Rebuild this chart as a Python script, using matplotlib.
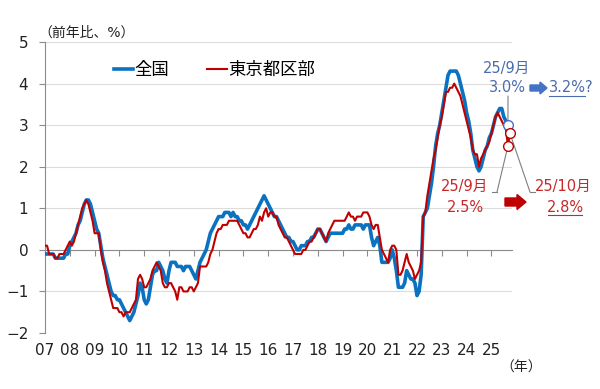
import numpy as np
import matplotlib
matplotlib.use('Agg')
import matplotlib.pyplot as plt
import matplotlib.patches as mpatches
from matplotlib.lines import Line2D

plt.rcParams['font.family'] = ['DejaVu Sans', 'Noto Sans CJK JP']
plt.rcParams['axes.unicode_minus'] = True

# ---------------- data (monthly, y/y %, from Jan 2007) ----------------
start_year = 2007
national = [
    -0.1, -0.1, -0.1, -0.1, -0.1, -0.2, -0.2, -0.2, -0.2, -0.2, -0.1, -0.1,  # 2007
    0.1, 0.2, 0.3, 0.4, 0.6, 0.7, 0.9, 1.1, 1.2, 1.2, 1.1, 0.9,              # 2008
    0.7, 0.5, 0.4, 0.1, -0.2, -0.4, -0.6, -0.8, -1.0, -1.1, -1.1, -1.2,      # 2009
    -1.2, -1.3, -1.4, -1.5, -1.6, -1.7, -1.6, -1.5, -1.3, -1.1, -0.8, -0.9,  # 2010
    -1.2, -1.3, -1.2, -0.9, -0.6, -0.5, -0.5, -0.3, -0.4, -0.5, -0.7, -0.8,  # 2011
    -0.5, -0.3, -0.3, -0.3, -0.4, -0.4, -0.4, -0.5, -0.4, -0.4, -0.4, -0.5,  # 2012
    -0.6, -0.7, -0.5, -0.3, -0.2, -0.1, 0.0, 0.2, 0.4, 0.5, 0.6, 0.7,        # 2013
    0.8, 0.8, 0.8, 0.9, 0.9, 0.9, 0.8, 0.9, 0.8, 0.8, 0.7, 0.7,              # 2014
    0.6, 0.6, 0.5, 0.6, 0.7, 0.8, 0.9, 1.0, 1.1, 1.2, 1.3, 1.2,              # 2015
    1.1, 1.0, 0.9, 0.8, 0.8, 0.7, 0.6, 0.5, 0.4, 0.3, 0.3, 0.2,              # 2016
    0.2, 0.1, 0.0, 0.0, 0.1, 0.1, 0.1, 0.2, 0.2, 0.3, 0.3, 0.4,              # 2017
    0.5, 0.5, 0.4, 0.3, 0.2, 0.3, 0.4, 0.4, 0.4, 0.4, 0.4, 0.4,              # 2018
    0.4, 0.5, 0.5, 0.6, 0.5, 0.5, 0.6, 0.6, 0.6, 0.6, 0.5, 0.6,              # 2019
    0.6, 0.6, 0.3, 0.1, 0.2, 0.3, 0.1, -0.3, -0.3, -0.3, -0.3, -0.2,         # 2020
    0.0, -0.2, -0.5, -0.9, -0.9, -0.9, -0.8, -0.5, -0.6, -0.7, -0.7, -0.8,   # 2021
    -1.1, -1.0, -0.6, 0.8, 0.9, 1.0, 1.3, 1.6, 2.0, 2.5, 2.8, 3.0,           # 2022
    3.3, 3.6, 3.9, 4.2, 4.3, 4.3, 4.3, 4.3, 4.2, 4.0, 3.8, 3.6,              # 2023
    3.3, 3.1, 2.8, 2.4, 2.2, 2.0, 1.9, 2.0, 2.2, 2.4, 2.5, 2.7,              # 2024
    2.8, 3.0, 3.2, 3.3, 3.4, 3.4, 3.2, 3.1, 3.0,                             # 2025
]
tokyo = [
    0.1, 0.1, -0.1, -0.1, -0.1, -0.2, -0.2, -0.1, -0.1, -0.1, 0.0, 0.1,      # 2007
    0.2, 0.1, 0.2, 0.4, 0.6, 0.8, 1.0, 1.1, 1.2, 1.1, 0.9, 0.7,              # 2008
    0.4, 0.4, 0.4, 0.0, -0.3, -0.5, -0.8, -1.0, -1.2, -1.4, -1.4, -1.4,      # 2009
    -1.5, -1.5, -1.6, -1.5, -1.5, -1.5, -1.4, -1.3, -1.2, -0.7, -0.6, -0.7,  # 2010
    -0.9, -0.9, -0.8, -0.7, -0.5, -0.4, -0.3, -0.4, -0.5, -0.8, -0.9, -0.9,  # 2011
    -0.8, -0.8, -0.9, -1.0, -1.2, -0.9, -0.9, -1.0, -1.0, -1.0, -0.9, -0.9,  # 2012
    -1.0, -0.9, -0.8, -0.4, -0.4, -0.4, -0.4, -0.3, -0.1, 0.0, 0.2, 0.4,     # 2013
    0.5, 0.5, 0.6, 0.6, 0.6, 0.7, 0.7, 0.7, 0.7, 0.7, 0.6, 0.5,              # 2014
    0.4, 0.4, 0.3, 0.3, 0.4, 0.5, 0.5, 0.6, 0.8, 0.7, 0.9, 1.0,              # 2015
    0.8, 0.9, 0.9, 0.8, 0.8, 0.6, 0.5, 0.4, 0.3, 0.3, 0.2, 0.1,              # 2016
    0.0, -0.1, -0.1, -0.1, -0.1, 0.0, 0.0, 0.1, 0.2, 0.2, 0.3, 0.4,          # 2017
    0.5, 0.5, 0.4, 0.3, 0.2, 0.4, 0.5, 0.6, 0.7, 0.7, 0.7, 0.7,              # 2018
    0.7, 0.7, 0.8, 0.9, 0.8, 0.8, 0.7, 0.8, 0.8, 0.8, 0.9, 0.9,              # 2019
    0.9, 0.8, 0.6, 0.5, 0.6, 0.6, 0.3, 0.0, -0.1, -0.2, -0.3, 0.0,           # 2020
    0.1, 0.1, 0.0, -0.6, -0.6, -0.5, -0.3, -0.1, -0.3, -0.4, -0.5, -0.7,     # 2021
    -0.6, -0.5, -0.3, 0.8, 0.9, 1.3, 1.6, 1.9, 2.2, 2.4, 2.7, 3.0,           # 2022
    3.2, 3.5, 3.8, 3.8, 3.9, 3.9, 4.0, 3.9, 3.8, 3.7, 3.5, 3.3,              # 2023
    3.1, 2.9, 2.7, 2.4, 2.3, 2.3, 2.0, 2.2, 2.3, 2.4, 2.5, 2.6,              # 2024
    2.8, 3.0, 3.2, 3.3, 3.2, 3.1, 3.0, 2.9, 2.5, 2.8,                        # 2025
]
series_names = ['全国', '東京都区部']
year_ticks = list(range(2007, 2026))
year_labels = ['07', '08', '09', '10', '11', '12', '13', '14', '15', '16',
               '17', '18', '19', '20', '21', '22', '23', '24', '25']
y_ticks = [-2, -1, 0, 1, 2, 3, 4, 5]

BLUE = '#0A72C0'
RED = '#C00000'
BLUE_TXT = '#4A6CAE'
RED_TXT = '#C8282A'
GRAY = '#8C8C8C'

W, H = 600, 389
def fx(px):
    return px / W
def fy(py):
    return 1 - py / H

fig = plt.figure(figsize=(W / 100, H / 100), dpi=100)
ax = fig.add_axes([fx(45), fy(333), (512 - 45) / W, (333 - 42) / H])

x_nat = start_year + np.arange(len(national)) / 12
x_tok = start_year + np.arange(len(tokyo)) / 12
ax.plot(x_nat, national, color=BLUE, lw=2.6, label=series_names[0], zorder=3,
        solid_joinstyle='round')
ax.plot(x_tok, tokyo, color=RED, lw=1.5, label=series_names[1], zorder=4)

ax.set_xlim(2007, 2025.83)
ax.set_ylim(-2, 5)
ax.set_yticks(y_ticks)
ax.grid(axis='y', color='#DCDCDC', lw=0.8)
ax.set_axisbelow(True)
for s in ['top', 'right']:
    ax.spines[s].set_visible(False)
ax.spines['bottom'].set_position(('data', 0))
ax.spines['bottom'].set_color(GRAY)
ax.spines['left'].set_color(GRAY)
ax.set_xticks(year_ticks)
ax.tick_params(axis='x', direction='out', length=4, color=GRAY, labelbottom=False)
ax.tick_params(axis='y', direction='out', length=4, color=GRAY, labelsize=11,
               labelcolor='#222222', pad=8)

for yr, lab in zip(year_ticks, year_labels):
    ax.annotate(lab, xy=(yr, 0), xycoords=('data', 'axes fraction'),
                xytext=(0, -12.5), textcoords='offset points',
                ha='center', va='center', fontsize=11, color='#222222')

fig.text(fx(38), fy(33), '（前年比、%）', ha='left', va='center', fontsize=10, color='#222222')
fig.text(fx(521), fy(368), '（年）', ha='center', va='center', fontsize=10, color='#222222')

ax.legend(loc='center left', bbox_to_anchor=(fx(105), fy(70)), bbox_transform=fig.transFigure,
          ncol=2, frameon=False, handlelength=1.1, handletextpad=0.1, columnspacing=2.2,
          borderpad=0, fontsize=12.5)

# end-point markers
ax.plot([x_nat[-1]], [national[-1]], 'o', ms=7, mfc='white', mec='#4472C4', mew=1.0,
        zorder=6, clip_on=False)
ax.plot([x_tok[-1]], [tokyo[-1]], 'o', ms=7, mfc='white', mec=RED, mew=1.0,
        zorder=6, clip_on=False)
ax.plot([x_tok[-2]], [tokyo[-2]], 'o', ms=7, mfc='white', mec=RED, mew=1.0,
        zorder=6, clip_on=False)

# leader lines
lp = dict(arrowstyle='-', color='#7F7F7F', lw=0.8, shrinkA=0, shrinkB=3.5)
ax.annotate('', xy=(x_nat[-1], national[-1]), xytext=(fx(508), fy(96)),
            textcoords='figure fraction', arrowprops=lp, annotation_clip=False)
ax.annotate('', xy=(x_tok[-2], tokyo[-2]), xytext=(fx(497), fy(192)),
            textcoords='figure fraction', arrowprops=lp, annotation_clip=False)
ax.annotate('', xy=(x_tok[-1], tokyo[-1]), xytext=(fx(530), fy(192)),
            textcoords='figure fraction', arrowprops=lp, annotation_clip=False)
fig.add_artist(Line2D([fx(492), fx(497)], [fy(192), fy(192)], color='#7F7F7F', lw=0.8))
fig.add_artist(Line2D([fx(530), fx(535)], [fy(192), fy(192)], color='#7F7F7F', lw=0.8))

# annotations
fs = 10.5
fig.text(fx(507), fy(68), '25/9月', ha='center', va='center', fontsize=fs, color=BLUE_TXT)
fig.text(fx(507), fy(88), '3.0%', ha='center', va='center', fontsize=fs, color=BLUE_TXT)
fig.text(fx(549), fy(88), '3.2%?', ha='left', va='center', fontsize=fs, color=BLUE_TXT)
fig.add_artist(Line2D([fx(549), fx(585)], [fy(96), fy(96)], color=BLUE_TXT, lw=0.8))
fig.add_artist(mpatches.FancyArrow(fx(530), fy(88), 17 / W, 0, width=6 / H, head_width=12 / H,
                                   head_length=7 / W, length_includes_head=True,
                                   color='#4472C4', transform=fig.transFigure))

fig.text(fx(465), fy(186), '25/9月', ha='center', va='center', fontsize=fs, color=RED_TXT)
fig.text(fx(465), fy(207), '2.5%', ha='center', va='center', fontsize=fs, color=RED_TXT)
fig.text(fx(563), fy(186), '25/10月', ha='center', va='center', fontsize=fs, color=RED_TXT)
fig.text(fx(565), fy(207), '2.8%', ha='center', va='center', fontsize=fs, color=RED_TXT)
fig.add_artist(Line2D([fx(548), fx(582)], [fy(215), fy(215)], color=RED_TXT, lw=0.8))
fig.add_artist(mpatches.FancyArrow(fx(505), fy(202), 21 / W, 0, width=8 / H, head_width=15 / H,
                                   head_length=9 / W, length_includes_head=True,
                                   color=RED, transform=fig.transFigure))

fig.savefig('out.png', dpi=100)
